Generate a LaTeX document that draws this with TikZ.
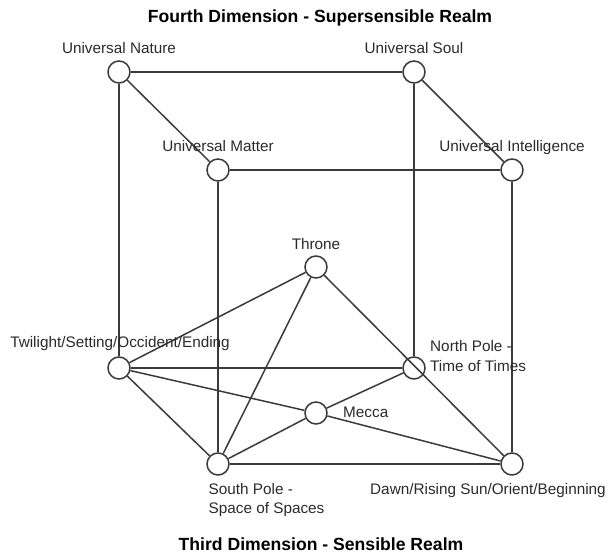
\documentclass[tikz,border=0pt]{standalone}
\usepackage{fontspec}
\setmainfont{Liberation Sans}
\definecolor{linec}{HTML}{3A3A3A}
\definecolor{textc}{HTML}{2A2A2A}
\begin{document}
\begin{tikzpicture}[x=1pt,y=-1pt,
  vtx/.style={circle,draw=linec,line width=1.5pt,minimum size=22pt,inner sep=0pt},
  edge/.style={draw=linec,line width=1.5pt},
  lbl/.style={font=\fontsize{15.3}{19}\selectfont,text=textc,inner sep=0pt},
  ttl/.style={font=\bfseries\fontsize{17.6}{20}\selectfont,text=black,inner sep=0pt}]
\useasboundingbox (0,0) rectangle (611,554);
% vertices
\node[vtx] (UN) at (119,72) {};
\node[vtx] (US) at (414,72) {};
\node[vtx] (UM) at (218,170) {};
\node[vtx] (UI) at (512,170) {};
\node[vtx] (T)  at (316,267) {};
\node[vtx] (TW) at (119,368) {};
\node[vtx] (NP) at (414,368) {};
\node[vtx] (M)  at (316,413) {};
\node[vtx] (SP) at (218,464) {};
\node[vtx] (D)  at (512,464) {};
% edges
\draw[edge] (UN) -- (US);
\draw[edge] (UN) -- (UM);
\draw[edge] (US) -- (UI);
\draw[edge] (UM) -- (UI);
\draw[edge] (UN) -- (TW);
\draw[edge] (US) -- (NP);
\draw[edge] (UM) -- (SP);
\draw[edge] (UI) -- (D);
\draw[edge] (TW) -- (NP);
\draw[edge] (SP) -- (D);
\draw[edge] (TW) -- (SP);
\draw[edge] (T) -- (TW);
\draw[edge] (T) -- (SP);
\draw[edge] (T) -- (D);
\draw[edge] (TW) -- (M);
\draw[edge] (M) -- (D);
\draw[edge] (SP) -- (M);
\draw[edge] (M) -- (NP);
% labels
\node[lbl,anchor=base] (lUN) at (119,53) {Universal Nature};
\node[lbl,anchor=base] (lUS) at (414,53) {Universal Soul};
\node[lbl,anchor=base] (lUM) at (218,151) {Universal Matter};
\node[lbl,anchor=base] (lUI) at (512,151) {Universal Intelligence};
\node[lbl,anchor=base] (lT) at (316,249.5) {Throne};
\node[lbl,anchor=base] (lTW) at (120,347) {Twilight/Setting/Occident/Ending};
\node[lbl,anchor=base west] (lNPa) at (430,351.5) {North Pole -};
\node[lbl,anchor=base west] (lNPb) at (430,371) {Time of Times};
\node[lbl,anchor=base west] (lM) at (343,417) {Mecca};
\node[lbl,anchor=base west] (lSPa) at (208.5,494) {South Pole -};
\node[lbl,anchor=base west] (lSPb) at (208.5,513) {Space of Spaces};
\node[lbl,anchor=base west] (lD) at (370,494) {Dawn/Rising Sun/Orient/Beginning};
% titles
\node[ttl,anchor=base] (top) at (320,22.5) {Fourth Dimension - Supersensible Realm};
\node[ttl,anchor=base] (bottom) at (321,550) {Third Dimension - Sensible Realm};
\end{tikzpicture}
\end{document}
